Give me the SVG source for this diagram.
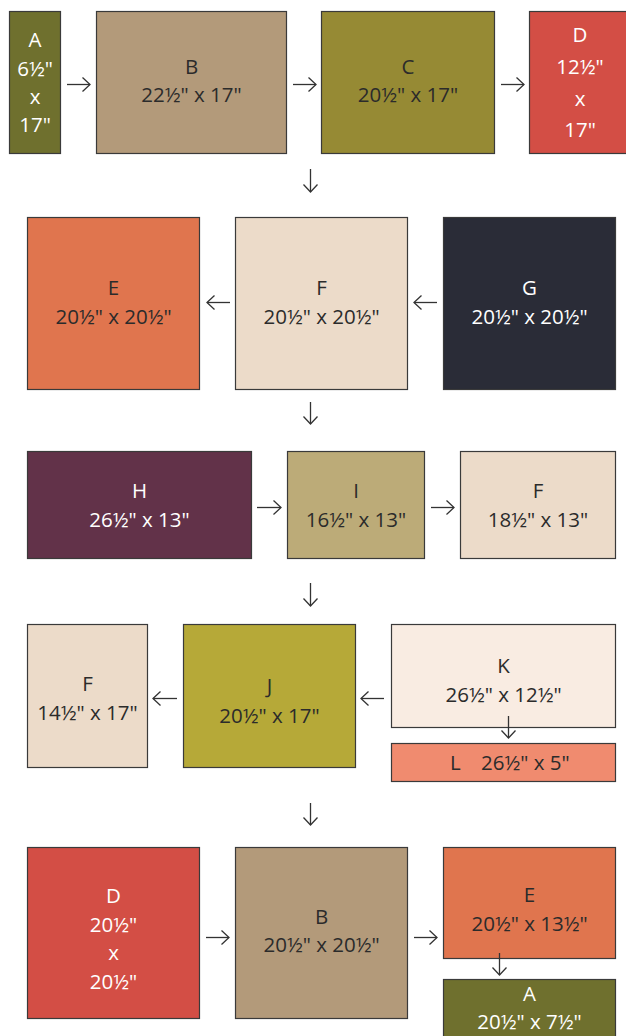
<svg xmlns="http://www.w3.org/2000/svg" width="626" height="1036" viewBox="0 0 626 1036">
<style>
.n{stroke:#3a3a3a;stroke-width:1.2}
text{font-family:"Open Sans","Liberation Sans",sans-serif;font-size:20.5px;text-anchor:middle}
.dk{fill:#2b2b2b}
.wt{fill:#ffffff}
.c{fill:none;stroke:#333;stroke-width:1.3}
</style>
<defs>
<marker id="ah" markerUnits="userSpaceOnUse" markerWidth="12" markerHeight="16" viewBox="-9 -8 10 16" refX="0" refY="0" orient="auto">
<path d="M-7.5,-7 L0,0 L-7.5,7" fill="none" stroke="#333" stroke-width="1.3"/>
</marker>
</defs>
<rect width="626" height="1036" fill="#ffffff"/>
<g id="A1"><rect class="n" x="9.5" y="11.5" width="51" height="142" fill="#6f702e"/><text class="wt" x="35" y="47">A</text><text class="wt" x="35" y="76">6½"</text><text class="wt" x="35" y="104">x</text><text class="wt" x="35" y="132">17"</text></g>
<g id="B1"><rect class="n" x="96.5" y="11.5" width="190" height="142" fill="#b39a7a"/><text class="dk" x="191.5" y="74">B</text><text class="dk" x="191.5" y="102">22½" x 17"</text></g>
<g id="C1"><rect class="n" x="321.5" y="11.5" width="173" height="142" fill="#968a34"/><text class="dk" x="408" y="74">C</text><text class="dk" x="408" y="102">20½" x 17"</text></g>
<g id="D1"><rect class="n" x="529.5" y="11.5" width="110" height="142" fill="#d34e45"/><text class="wt" x="580" y="42">D</text><text class="wt" x="580" y="74">12½"</text><text class="wt" x="580" y="106">x</text><text class="wt" x="580" y="137">17"</text></g>
<g id="E2"><rect class="n" x="27.5" y="217.5" width="172" height="172" fill="#e0754e"/><text class="dk" x="113.5" y="295">E</text><text class="dk" x="113.5" y="324">20½" x 20½"</text></g>
<g id="F2"><rect class="n" x="235.5" y="217.5" width="172" height="172" fill="#ecdbc9"/><text class="dk" x="321.5" y="295">F</text><text class="dk" x="321.5" y="324">20½" x 20½"</text></g>
<g id="G2"><rect class="n" x="443.5" y="217.5" width="172" height="172" fill="#2a2c37"/><text class="wt" x="529.5" y="295">G</text><text class="wt" x="529.5" y="324">20½" x 20½"</text></g>
<g id="H3"><rect class="n" x="27.5" y="451.5" width="224" height="107" fill="#623249"/><text class="wt" x="139.5" y="498">H</text><text class="wt" x="139.5" y="527">26½" x 13"</text></g>
<g id="I3"><rect class="n" x="287.5" y="451.5" width="137" height="107" fill="#bcab78"/><text class="dk" x="356" y="498">I</text><text class="dk" x="356" y="527">16½" x 13"</text></g>
<g id="F3"><rect class="n" x="460.5" y="451.5" width="155" height="107" fill="#ecdbc9"/><text class="dk" x="538" y="498">F</text><text class="dk" x="538" y="527">18½" x 13"</text></g>
<g id="F4"><rect class="n" x="27.5" y="624.5" width="120" height="143" fill="#ecdbc9"/><text class="dk" x="87.5" y="691">F</text><text class="dk" x="87.5" y="720">14½" x 17"</text></g>
<g id="J4"><rect class="n" x="183.5" y="624.5" width="172" height="143" fill="#b6a938"/><text class="dk" x="269.5" y="693">J</text><text class="dk" x="269.5" y="723">20½" x 17"</text></g>
<g id="K4"><rect class="n" x="391.5" y="624.5" width="224" height="103" fill="#f9ece2"/><text class="dk" x="503.5" y="673">K</text><text class="dk" x="503.5" y="702">26½" x 12½"</text></g>
<g id="L4"><rect class="n" x="391.5" y="743.5" width="224" height="38" fill="#f08b6f"/><text class="dk" y="770" style="text-anchor:start"><tspan x="450">L</tspan><tspan x="481">26½" x 5"</tspan></text></g>
<g id="D5"><rect class="n" x="27.5" y="847.5" width="172" height="171" fill="#d34e45"/><text class="wt" x="113.5" y="903">D</text><text class="wt" x="113.5" y="932">20½"</text><text class="wt" x="113.5" y="960">x</text><text class="wt" x="113.5" y="989">20½"</text></g>
<g id="B5"><rect class="n" x="235.5" y="847.5" width="172" height="171" fill="#b39a7a"/><text class="dk" x="321.5" y="924">B</text><text class="dk" x="321.5" y="952">20½" x 20½"</text></g>
<g id="E5"><rect class="n" x="443.5" y="847.5" width="172" height="111" fill="#e0754e"/><text class="dk" x="529.5" y="902">E</text><text class="dk" x="529.5" y="931">20½" x 13½"</text></g>
<g id="A5"><rect class="n" x="443.5" y="979.5" width="172" height="70" fill="#6f702e"/><text class="wt" x="529.5" y="1001">A</text><text class="wt" x="529.5" y="1029">20½" x 7½"</text></g>
<g id="connectors">
<path class="c" d="M67,84.5 H90" marker-end="url(#ah)"/>
<path class="c" d="M293,84.5 H316" marker-end="url(#ah)"/>
<path class="c" d="M501,84.5 H524" marker-end="url(#ah)"/>
<path class="c" d="M310.5,169 V192" marker-end="url(#ah)"/>
<path class="c" d="M230,302.5 H207" marker-end="url(#ah)"/>
<path class="c" d="M437,302.5 H414" marker-end="url(#ah)"/>
<path class="c" d="M310.5,402 V424" marker-end="url(#ah)"/>
<path class="c" d="M257,507.5 H281" marker-end="url(#ah)"/>
<path class="c" d="M431,507.5 H454" marker-end="url(#ah)"/>
<path class="c" d="M310.5,583 V606" marker-end="url(#ah)"/>
<path class="c" d="M177,698.5 H153" marker-end="url(#ah)"/>
<path class="c" d="M384,698.5 H361" marker-end="url(#ah)"/>
<path class="c" d="M508.5,716 V738" marker-end="url(#ah)"/>
<path class="c" d="M310.5,803 V825" marker-end="url(#ah)"/>
<path class="c" d="M206,937.5 H229" marker-end="url(#ah)"/>
<path class="c" d="M414,937.5 H437" marker-end="url(#ah)"/>
<path class="c" d="M499.5,953 V975" marker-end="url(#ah)"/>
</g>
</svg>
